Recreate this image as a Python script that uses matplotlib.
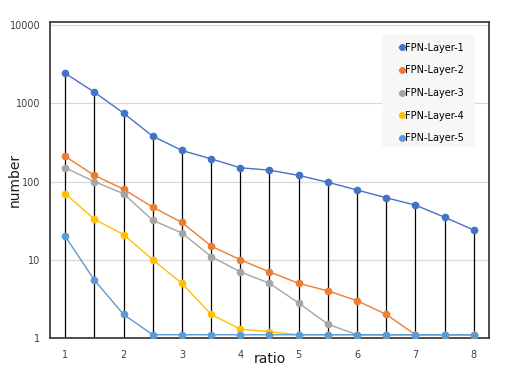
import numpy as np
import matplotlib.pyplot as plt
from matplotlib.patches import Rectangle

# ratio values on x axis
ratio = [1, 1.5, 2, 2.5, 3, 3.5, 4, 4.5, 5, 5.5, 6, 6.5, 7, 7.5, 8]

layer1 = [2420, 1390, 750, 380, 250, 195, 150, 140, 120, 98, 78, 62, 50, 35, 24]
layer2 = [210, 120, 80, 47, 30, 15, 10, 7, 5, 4, 3, 2, 1.1, 1.1, 1.1]
layer3 = [150, 100, 70, 32, 22, 11, 7, 5, 2.8, 1.5, 1.1, 1.1, 1.1, 1.1, 1.1]
layer4 = [70, 33, 21, 10, 5, 2, 1.3, 1.2, 1.1, 1.1, 1.1, 1.1, 1.1, 1.1, 1.1]
layer5 = [20, 5.5, 2, 1.1, 1.1, 1.1, 1.1, 1.1, 1.1, 1.1, 1.1, 1.1, 1.1, 1.1, 1.1]

names = ["FPN-Layer-1", "FPN-Layer-2", "FPN-Layer-3", "FPN-Layer-4", "FPN-Layer-5"]
colors = ["#4472C4", "#ED7D31", "#A5A5A5", "#FFC000", "#5B9BD5"]

fig = plt.figure(figsize=(5.08, 3.70), dpi=100)
ax = fig.add_axes([0.0984, 0.0865, 0.8642, 0.854])

# drop lines from top series down to the axis
ax.vlines(ratio, 1, layer1, color="black", lw=0.9, zorder=2)

for ys, name, c in zip([layer1, layer2, layer3, layer4, layer5], names, colors):
    ax.plot(ratio, ys, color=c, lw=1.0, marker="o", ms=4.5, label=name, zorder=3)

ax.set_yscale("log")
ax.set_ylim(1, 10**4.04)
ax.set_xlim(0.74, 8.26)
ax.set_yticks([1, 10, 100, 1000, 10000])
ax.set_yticklabels(["1", "10", "100", "1000", "10000"])
ax.minorticks_off()
ax.set_xticks(range(1, 9))
ax.tick_params(length=0, labelsize=7, labelcolor="#404040")
ax.tick_params(axis="x", pad=9)
ax.tick_params(axis="y", pad=7)
ax.grid(axis="y", color="#D9D9D9", lw=0.9, zorder=0)

for s in ax.spines.values():
    s.set_color("#404040")
    s.set_linewidth(1.3)

ax.set_xlabel("ratio", fontsize=10, color="#1a1a1a")
ax.set_ylabel("number", fontsize=10, color="#1a1a1a")
ax.xaxis.set_label_coords(0.5, -0.045)
ax.yaxis.set_label_coords(-0.064, 0.5)

# legend background box
ax.add_patch(Rectangle((0.756, 0.604), 0.212, 0.355, transform=ax.transAxes,
                       facecolor="#F7F7F7", edgecolor="none", zorder=4))
leg = ax.legend(loc="upper left", bbox_to_anchor=(0.785, 0.95), fontsize=7,
                handlelength=0.5, handletextpad=0.1, labelspacing=1.3,
                borderpad=0, frameon=False)
leg.set_zorder(5)
for h in leg.legend_handles:
    h.set_markersize(4)

fig.savefig("out.png", dpi=100)
